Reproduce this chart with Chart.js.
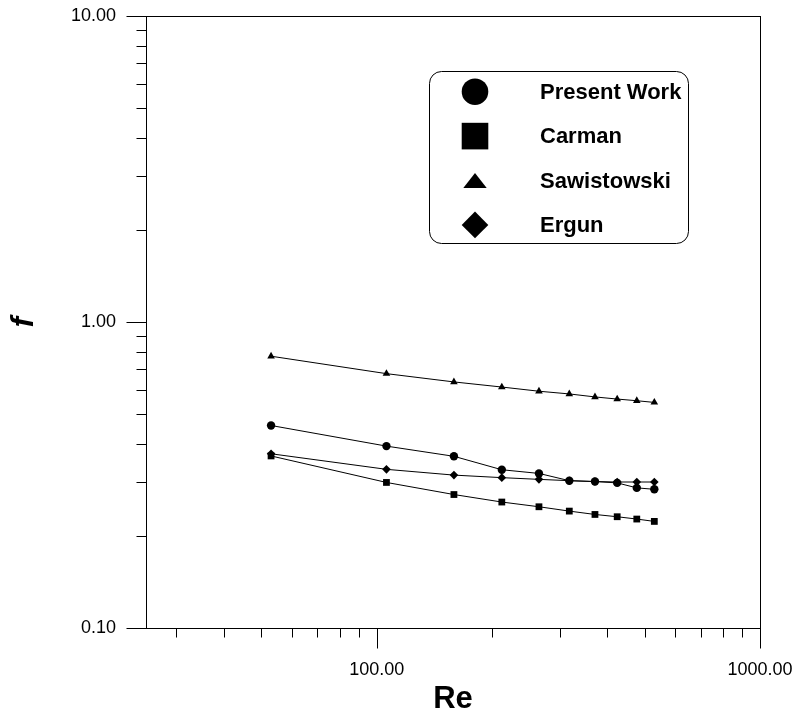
<!DOCTYPE html>
<html>
<head>
<meta charset="utf-8">
<script src="https://cdn.jsdelivr.net/npm/chart.js@4.4.1/dist/chart.umd.min.js"></script>
<style>
  html, body { margin: 0; padding: 0; background: #fff; }
  #wrap { width: 797px; height: 719px; }
</style>
</head>
<body>
<div id="wrap"><canvas id="fChart" width="797" height="719"></canvas></div>
<script>
// Re values (x) and friction factor f (y) for each correlation
var reynolds    = [53, 106, 159, 212, 265, 318, 371, 424, 477, 530];
var presentWork = [0.459, 0.393, 0.364, 0.329, 0.320, 0.303, 0.301, 0.298, 0.287, 0.284];
var carman      = [0.365, 0.299, 0.273, 0.258, 0.249, 0.241, 0.235, 0.231, 0.227, 0.223];
var sawistowski = [0.773, 0.678, 0.637, 0.613, 0.594, 0.582, 0.569, 0.560, 0.553, 0.546];
var ergun       = [0.371, 0.330, 0.316, 0.310, 0.306, 0.303, 0.301, 0.300, 0.300, 0.300];

var seriesNames = ['Present Work', 'Carman', 'Sawistowski', 'Ergun'];

// axis ranges and ticks
var xRange = [25, 1000];
var yRange = [0.1, 10];
var xMajorTicks = [100, 1000];
var xMinorTicks = [30, 40, 50, 60, 70, 80, 90, 200, 300, 400, 500, 600, 700, 800, 900];
var yMajorTicks = [0.1, 1, 10];
var yMinorTicks = [0.2, 0.3, 0.4, 0.5, 0.6, 0.7, 0.8, 0.9, 2, 3, 4, 5, 6, 7, 8, 9];

var FONT = "'Liberation Sans', Arial, Helvetica, sans-serif";

function toPoints(ys) {
  return reynolds.map(function (x, i) { return { x: x, y: ys[i] }; });
}

function tickList(major, minor) {
  return major.concat(minor).sort(function (a, b) { return a - b; }).map(function (v) {
    return { value: v, major: major.indexOf(v) >= 0 };
  });
}

// frame round the plot + outward tick marks (major longer than minor)
var frameAndTicks = {
  id: 'frameAndTicks',
  afterDraw: function (chart) {
    var ctx = chart.ctx, a = chart.chartArea;
    var xs = chart.scales.x, ys = chart.scales.y;
    var L = Math.round(a.left) + 0.5, R = Math.round(a.right) + 0.5;
    var T = Math.round(a.top) + 0.5, B = Math.round(a.bottom) + 0.5;
    ctx.save();
    ctx.strokeStyle = '#000';
    ctx.lineWidth = 1;
    ctx.strokeRect(L, T, R - L, B - T);
    ctx.beginPath();
    xMajorTicks.concat(xMinorTicks).forEach(function (v) {
      var px = Math.round(xs.getPixelForValue(v)) + 0.5;
      var len = xMajorTicks.indexOf(v) >= 0 ? 20 : 9;
      ctx.moveTo(px, B);
      ctx.lineTo(px, B + len);
    });
    yMajorTicks.concat(yMinorTicks).forEach(function (v) {
      var py = Math.round(ys.getPixelForValue(v)) + 0.5;
      var len = yMajorTicks.indexOf(v) >= 0 ? 20 : 10;
      ctx.moveTo(L, py);
      ctx.lineTo(L - len, py);
    });
    ctx.stroke();
    ctx.restore();
  }
};

function drawMarker(ctx, style, x, y) {
  ctx.beginPath();
  if (style === 'circle') {
    ctx.arc(x, y, 13.3, 0, Math.PI * 2);
  } else if (style === 'rect') {
    ctx.rect(x - 13.3, y - 13.3, 26.6, 26.6);
  } else if (style === 'triangle') {
    ctx.moveTo(x, y - 7.5);
    ctx.lineTo(x + 11.7, y + 7.5);
    ctx.lineTo(x - 11.7, y + 7.5);
    ctx.closePath();
  } else {
    ctx.moveTo(x, y - 13.3);
    ctx.lineTo(x + 13.3, y);
    ctx.lineTo(x, y + 13.3);
    ctx.lineTo(x - 13.3, y);
    ctx.closePath();
  }
  ctx.fill();
}

// legend box inside the plot, upper right
var legendBox = {
  id: 'legendBox',
  afterDraw: function (chart) {
    var ctx = chart.ctx;
    var l = 429.5, t = 71.5, r = 688.5, b = 243.5, rad = 12;
    ctx.save();
    ctx.fillStyle = '#fff';
    ctx.strokeStyle = '#000';
    ctx.lineWidth = 1;
    ctx.beginPath();
    ctx.moveTo(l + rad, t);
    ctx.arcTo(r, t, r, b, rad);
    ctx.arcTo(r, b, l, b, rad);
    ctx.arcTo(l, b, l, t, rad);
    ctx.arcTo(l, t, r, t, rad);
    ctx.closePath();
    ctx.fill();
    ctx.stroke();
    ctx.fillStyle = '#000';
    ctx.font = 'bold 22px ' + FONT;
    ctx.textAlign = 'left';
    ctx.textBaseline = 'middle';
    chart.data.datasets.forEach(function (ds, i) {
      var y = 91.7 + i * 44.4;
      drawMarker(ctx, ds.pointStyle, 475, y);
      ctx.fillText(ds.label, 540, y + 1);
    });
    ctx.restore();
  }
};

function series(i, data, style, radius) {
  return {
    label: seriesNames[i],
    data: toPoints(data),
    showLine: true,
    borderColor: '#000',
    borderWidth: 1,
    backgroundColor: '#000',
    pointStyle: style,
    pointRadius: radius,
    pointBorderWidth: 0,
    pointBackgroundColor: '#000',
    tension: 0
  };
}

var ctx = document.getElementById('fChart').getContext('2d');
var chart = new Chart(ctx, {
  type: 'scatter',
  data: {
    datasets: [
      series(0, presentWork, 'circle', 4.2),
      series(1, carman, 'rect', 4.8),
      series(2, sawistowski, 'triangle', 4.4),
      series(3, ergun, 'rectRot', 4.3)
    ]
  },
  options: {
    responsive: false,
    devicePixelRatio: 1,
    animation: false,
    layout: { padding: { top: 16, right: 37, left: 0, bottom: 0 } },
    plugins: {
      legend: { display: false },
      tooltip: { enabled: false }
    },
    scales: {
      x: {
        type: 'logarithmic',
        position: 'bottom',
        min: xRange[0],
        max: xRange[1],
        afterBuildTicks: function (s) { s.ticks = tickList(xMajorTicks, xMinorTicks); },
        afterFit: function (s) { s.height = 91; s.paddingLeft = 0; s.paddingRight = 0; },
        grid: { display: false, drawTicks: false, tickLength: 0 },
        border: { display: false },
        ticks: {
          autoSkip: false,
          maxRotation: 0,
          padding: 31,
          color: '#000',
          font: { family: FONT, size: 18 },
          callback: function (v) { return xMajorTicks.indexOf(v) >= 0 ? v.toFixed(2) : ''; }
        },
        title: {
          display: true,
          text: 'Re',
          color: '#000',
          font: { family: FONT, size: 31, weight: 'bold', lineHeight: 1 },
          padding: { top: 0, bottom: 4 }
        }
      },
      y: {
        type: 'logarithmic',
        position: 'left',
        min: yRange[0],
        max: yRange[1],
        afterBuildTicks: function (s) { s.ticks = tickList(yMajorTicks, yMinorTicks); },
        afterFit: function (s) { s.width = 146; s.paddingTop = 0; s.paddingBottom = 0; },
        grid: { display: false, drawTicks: false, tickLength: 0 },
        border: { display: false },
        ticks: {
          autoSkip: false,
          padding: 30,
          color: '#000',
          font: { family: FONT, size: 18 },
          callback: function (v) { return yMajorTicks.indexOf(v) >= 0 ? v.toFixed(2) : ''; }
        },
        title: {
          display: true,
          text: 'f',
          color: '#000',
          font: { family: FONT, size: 31, weight: 'bold', style: 'italic', lineHeight: 1 },
          padding: { top: 9, bottom: 0 }
        }
      }
    }
  },
  plugins: [frameAndTicks, legendBox]
});
</script>
</body>
</html>
